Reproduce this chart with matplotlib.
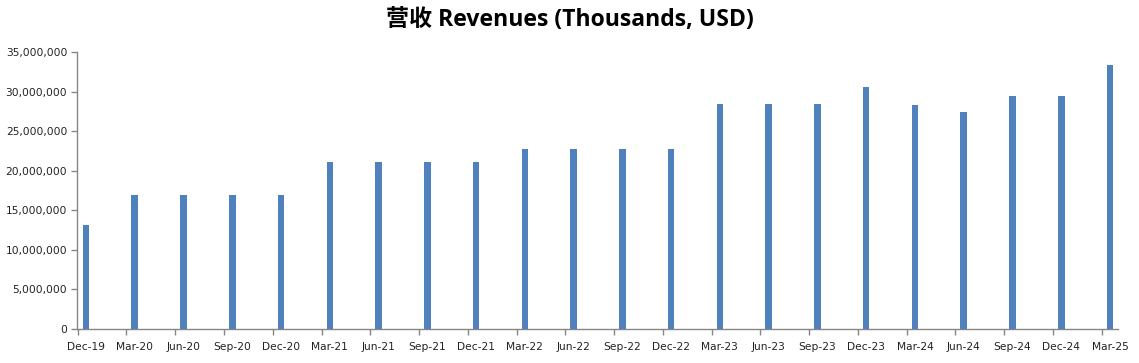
import matplotlib
matplotlib.use("Agg")
import matplotlib.pyplot as plt
from matplotlib.ticker import FuncFormatter, FixedLocator
import numpy as np

categories = ["Dec-19", "Mar-20", "Jun-20", "Sep-20", "Dec-20", "Mar-21", "Jun-21",
              "Sep-21", "Dec-21", "Mar-22", "Jun-22", "Sep-22", "Dec-22", "Mar-23",
              "Jun-23", "Sep-23", "Dec-23", "Mar-24", "Jun-24", "Sep-24", "Dec-24", "Mar-25"]
revenues = [13170000, 16980000, 16980000, 16980000, 16980000, 21140000, 21140000,
            21140000, 21140000, 22800000, 22800000, 22800000, 22800000, 28400000,
            28400000, 28400000, 30550000, 28260000, 27370000, 29400000, 29400000, 33400000]
yticks = [0, 5000000, 10000000, 15000000, 20000000, 25000000, 30000000, 35000000]
title = "营收 Revenues (Thousands, USD)"

W, H = 1139, 363
fig = plt.figure(figsize=(W / 100, H / 100), dpi=100)
ax = fig.add_axes([77 / W, 1 - 329 / H, (1118 - 77) / W, (329 - 52) / H])

x = np.arange(len(categories))
ax.bar(x, revenues, width=0.135, color="#4F81BD", zorder=2)

ax.set_xlim(-0.185, len(categories) - 1 + 0.164)
ax.set_ylim(0, 35000000)

gray = "#868686"
for s in ["top", "right"]:
    ax.spines[s].set_visible(False)
for s in ["left", "bottom"]:
    ax.spines[s].set_color(gray)
    ax.spines[s].set_linewidth(1.0)

ax.set_yticks(yticks)
ax.yaxis.set_major_formatter(FuncFormatter(lambda v, p: f"{int(v):,}"))
ax.tick_params(axis="y", direction="out", length=4, color=gray, width=1,
               labelsize=7.7, labelcolor="#222222", pad=3)

ax.set_xticks(x)
ax.set_xticklabels(categories)
ax.tick_params(axis="x", which="major", length=0, labelsize=7.7, labelcolor="#222222", pad=9)
ax.xaxis.set_minor_locator(FixedLocator(x - 0.17))
ax.tick_params(axis="x", which="minor", direction="out", length=4, color=gray, width=1)

fig.text(0.5, 1 - 20 / H, title, ha="center", va="center", fontsize=16.6,
         fontweight="bold", family=["Open Sans", "Noto Sans CJK SC"])

fig.savefig("out.png", dpi=100)
